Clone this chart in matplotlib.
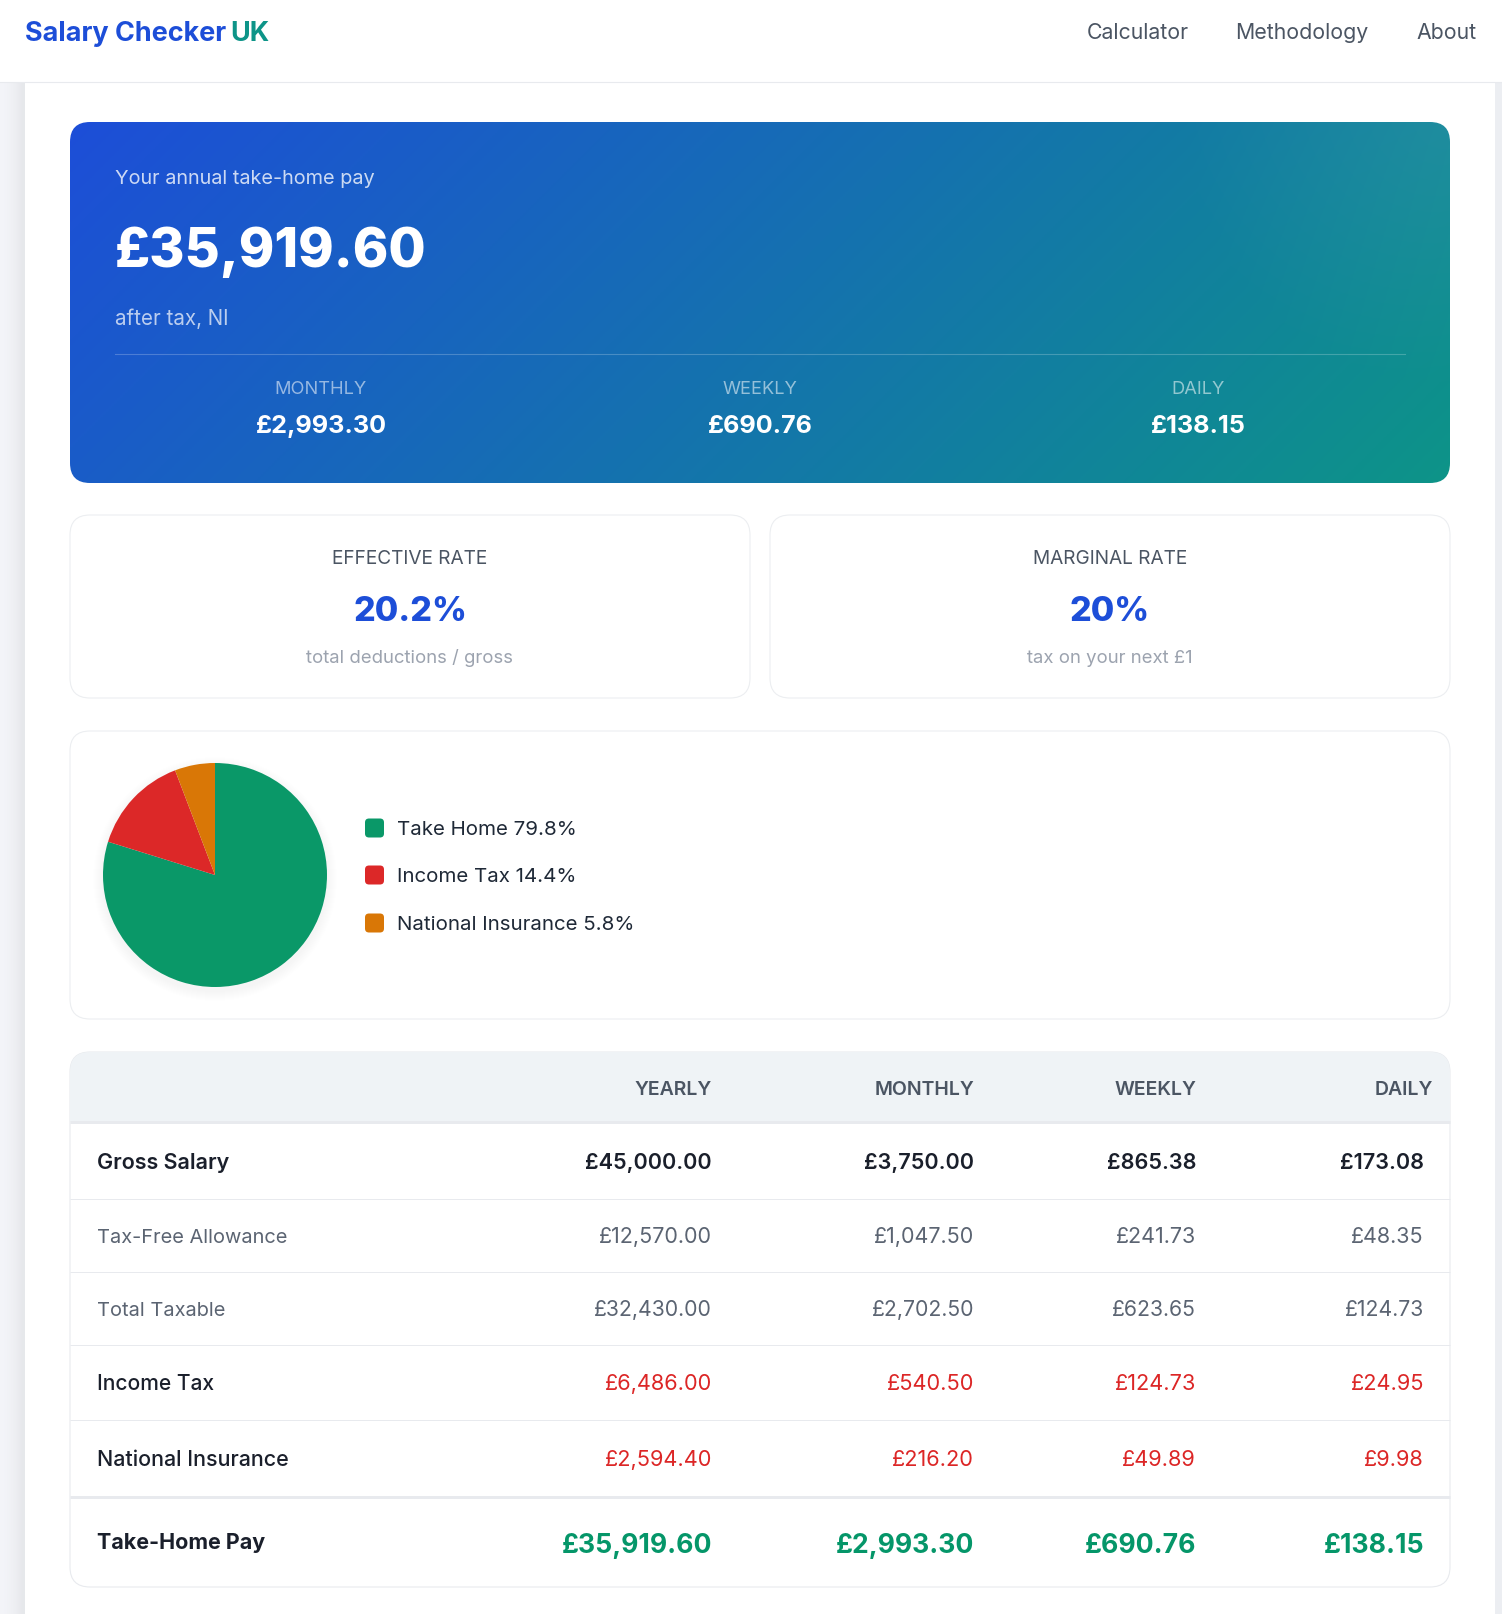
import numpy as np
import matplotlib
matplotlib.use("Agg")
import matplotlib.pyplot as plt
from matplotlib.patches import FancyBboxPatch, Rectangle, Circle

W, H = 1502, 1614
plt.rcParams['font.family'] = ['Inter', 'DejaVu Sans']

# data
pie_labels = ["Take Home", "Income Tax", "National Insurance"]
pie_values = [79.8, 14.4, 5.8]
pie_colors = ["#0a9868", "#dc2828", "#d97706"]

hero_labels = ["MONTHLY", "WEEKLY", "DAILY"]
hero_values = ["£2,993.30", "£690.76", "£138.15"]

rate_labels = ["EFFECTIVE RATE", "MARGINAL RATE"]
rate_values = ["20.2%", "20%"]
rate_notes = ["total deductions / gross", "tax on your next £1"]

nav_items = ["Calculator", "Methodology", "About"]
table_head = ["YEARLY", "MONTHLY", "WEEKLY", "DAILY"]
row_names = ["Gross Salary", "Tax-Free Allowance", "Total Taxable",
             "Income Tax", "National Insurance", "Take-Home Pay"]
yearly = ["£45,000.00", "£12,570.00", "£32,430.00", "£6,486.00", "£2,594.40", "£35,919.60"]
monthly = ["£3,750.00", "£1,047.50", "£2,702.50", "£540.50", "£216.20", "£2,993.30"]
weekly = ["£865.38", "£241.73", "£623.65", "£124.73", "£49.89", "£690.76"]
daily = ["£173.08", "£48.35", "£124.73", "£24.95", "£9.98", "£138.15"]

fig = plt.figure(figsize=(W / 100, H / 100), dpi=100, facecolor="white")
ax = fig.add_axes([0, 0, 1, 1])
ax.axis("off")


def txt(x, y, s, px, color, weight="normal", ha="left"):
    # y is the middle of the capitals, px the font size in pixels
    ax.text(x, y + 0.364 * px, s, fontsize=px * 0.72, color=color,
            fontweight=weight, ha=ha, va="baseline", zorder=6)


def box(x0, y0, x1, y1, r, face="white", edge="#eceef1", lw=0.8, z=2):
    p = FancyBboxPatch((x0, y0), x1 - x0, y1 - y0, boxstyle=f"round,pad=0,rounding_size={r}",
                       fc=face, ec=edge, lw=lw, zorder=z)
    ax.add_patch(p)
    return p


# page background
side = np.array([[[0.955, 0.958, 0.975], [0.945, 0.95, 0.965], [0.93, 0.935, 0.95], [0.905, 0.91, 0.925]]])
ax.imshow(side, extent=(0, 25, H, 82), aspect="auto", zorder=1, interpolation="bilinear")
ax.add_patch(Rectangle((1495, 82), 7, H - 82, fc="#eceef2", ec="none", zorder=1))
ax.plot([0, W], [81.5, 81.5], color="#e8eaee", lw=0.8, zorder=3)

# header
txt(25, 31, "Salary Checker", 27, "#1d4ed8", "bold")
txt(230, 31, "UK", 27, "#0d9488", "bold")
for cx, s in zip([1138, 1302, 1447], nav_items):
    txt(cx, 31, s, 21.3, "#4b5563", ha="center")

# hero card
hx0, hy0, hx1, hy1 = 70, 122, 1450, 483
nx, ny = hx1 - hx0, hy1 - hy0
gx, gy = np.meshgrid(np.linspace(0, 1, 500), np.linspace(0, 1, 160))
t = (gx * nx + gy * ny) / (nx + ny)
c0 = np.array([0x1d, 0x4e, 0xd8]) / 255
c1 = np.array([0x0d, 0x94, 0x88]) / 255
grad = c0 + (c1 - c0) * t[..., None]
# pale glow in the top right corner
dist = np.hypot((1 - gx) * nx, gy * ny)
glow = 0.06 * np.clip(1 - dist / 260, 0, 1)[..., None]
grad = grad + (1 - grad) * glow
im = ax.imshow(grad, extent=(hx0, hx1, hy1, hy0), aspect="auto", zorder=2)
clip = FancyBboxPatch((hx0, hy0), nx, ny, boxstyle="round,pad=0,rounding_size=20",
                      fc="none", ec="none", transform=ax.transData)
ax.add_patch(clip)
im.set_clip_path(clip)
ax.set_xlim(0, W)
ax.set_ylim(H, 0)

txt(115, 177, "Your annual take-home pay", 19.9, ("white", 0.78))
txt(115, 247, "£35,919.60", 54, "white", "heavy")
txt(115, 318, "after tax, NI", 20.6, ("white", 0.7))
ax.plot([115, 1405], [353.5, 353.5], color="#ffffff", alpha=0.22, lw=0.8, zorder=4)
for cx, a, b in zip([321, 760, 1198], hero_labels, hero_values):
    txt(cx, 387.5, a, 18.3, ("white", 0.55), ha="center")
    txt(cx, 424, b, 25.2, "white", "bold", ha="center")

# rate cards
for x0, x1, a, b, c in zip([70, 770], [750, 1450], rate_labels, rate_values, rate_notes):
    box(x0, 515, x1, 698, 20)
    cx = (x0 + x1) / 2
    txt(cx, 557, a, 19.1, "#4b5563", ha="center")
    txt(cx, 609, b, 34, "#1d4ed8", "heavy", ha="center")
    txt(cx, 656, c, 18.5, "#9ca3af", ha="center")

# pie card
box(70, 731, 1450, 1019, 20)
for i in range(10):
    ax.add_patch(Circle((215, 879), 112 + (10 - i), fc="black", ec="none", alpha=0.002, zorder=3))
pax = fig.add_axes([(215 - 112) / W, 1 - (875 + 112) / H, 224 / W, 224 / H], zorder=5)
pax.pie(pie_values, colors=pie_colors, startangle=90, counterclock=False, radius=1.0)
pax.set_xlim(-1, 1)
pax.set_ylim(-1, 1)
pax.patch.set_alpha(0)
for y, name, v, col in zip([828, 875, 923], pie_labels, pie_values, pie_colors):
    box(365, y - 9.5, 384, y + 9.5, 4, face=col, edge="none", lw=0, z=4)
    txt(397, y - 0.5, f"{name} {v}%", 20.5, "#1f2937")

# table
table = box(70, 1052, 1450, 1587, 20, edge="#e8eaee")
head = Rectangle((70, 1052), 1380, 70, fc="#eff3f6", ec="none", zorder=3)
ax.add_patch(head)
head.set_clip_path(table)
for x, s in zip([712, 974, 1196, 1433], table_head):
    txt(x, 1087.5, s, 19.5, "#4b5563", "semibold", ha="right")

row_y = [1161, 1235.5, 1308.5, 1382, 1458, 1543]
name_y = [1161, 1235.5, 1308.5, 1382, 1458, 1541]
line_y = [1122, 1199, 1271.5, 1344.5, 1420, 1497]
line_w = [3, 1, 1, 1, 1, 3]
for y, w in zip(line_y, line_w):
    ax.plot([70, 1450], [y, y], color="#e8eaee", lw=w * 0.72, zorder=4, solid_capstyle="butt")

name_col = ["#1a1f2b", "#5b6472", "#5b6472", "#1a1f2b", "#1a1f2b", "#1a1f2b"]
val_col = ["#1a1f2b", "#5b6472", "#5b6472", "#dc2626", "#dc2626", "#059669"]
name_w = ["semibold", "normal", "normal", "medium", "medium", "bold"]
val_w = ["semibold", "normal", "normal", "normal", "normal", "bold"]
name_px = [21.5, 20, 20, 21, 21.5, 21.5]
val_px = [21.6, 21.5, 21.2, 21.8, 21.8, 26.6]
for i, y in enumerate(row_y):
    txt(97, name_y[i], row_names[i], name_px[i], name_col[i], name_w[i])
    for x, col in zip([712, 974, 1196, 1424], [yearly, monthly, weekly, daily]):
        txt(x, y, col[i], val_px[i], val_col[i], val_w[i], ha="right")

fig.savefig("out.png", dpi=100, facecolor="white")
